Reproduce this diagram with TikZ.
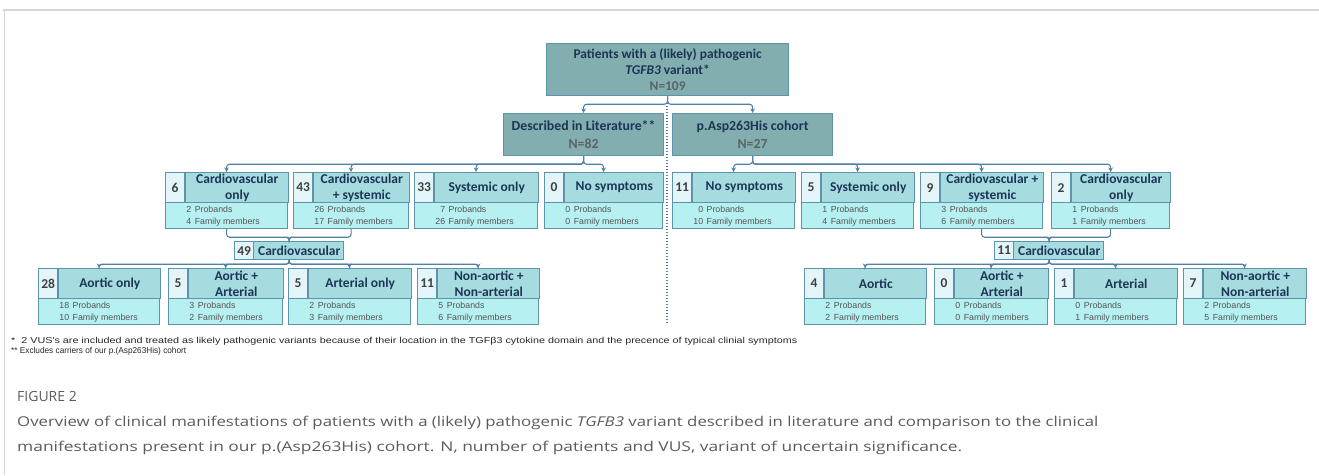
\documentclass[tikz,border=0pt]{standalone}
\usepackage{fontspec}
\setmainfont{Carlito}
\newfontfamily\arialfont{Liberation Sans}
\newfontfamily\capfont{Open Sans}
\usepackage{graphicx}
\usetikzlibrary{arrows.meta}
\usetikzlibrary{calc}
\definecolor{framegray}{HTML}{D6D6D6}
\definecolor{linkblue}{HTML}{4F81A8}
\definecolor{edgeblue}{HTML}{5E93AC}
\definecolor{topteal}{HTML}{82AEAF}
\definecolor{headteal}{HTML}{A6DCDF}
\definecolor{bodycyan}{HTML}{B7F0F1}
\definecolor{numwhite}{HTML}{E3F5F8}
\definecolor{navy}{HTML}{1D3557}
\definecolor{ngray}{HTML}{5A6466}
\definecolor{txtgray}{HTML}{555555}
\definecolor{capgray}{HTML}{5B5B5B}

% one category box: name, x, y, width, count, title, probands, family members
\newcommand{\catbox}[8]{%
  \node[catbody, minimum width=#4pt, anchor=north west] (#1) at (#2,#3) {};
  \node[catnum, anchor=north west] (#1-n) at (#1.north west) {#5};
  \node[cathead, minimum width=#4pt-19pt, anchor=north west] (#1-h) at (#1-n.north east) {#6};
  \node[cattxt, anchor=west] (#1-t) at ([xshift=1pt,yshift=-13pt]#1-n.south east)
    {\begin{tabular}{@{}r@{\hspace{3.5pt}}l@{}}#7 & Probands\\#8 & Family members\end{tabular}};
}
% small sum box: name, x, y, width, count
\newcommand{\sumbox}[5]{%
  \node[sumbody, minimum width=#4pt, anchor=north west] (#1) at (#2,#3) {};
  \node[sumnum, anchor=north west] (#1-n) at (#1.north west) {#5};
  \node[sumtxt] (#1-t) at ($(#1-n.east)!0.5!(#1.east)$) {Cardiovascular};
}

\begin{document}
\begin{tikzpicture}[x=1pt, y=-1pt,
    topbox/.style={draw=edgeblue, fill=topteal, line width=1.2pt, text=navy, align=center, inner sep=0pt},
    catbody/.style={draw=edgeblue, fill=bodycyan, line width=1.2pt, minimum height=56pt, inner sep=0pt},
    catnum/.style={draw=edgeblue, fill=numwhite, line width=1.2pt, minimum width=19pt, minimum height=30pt, inner sep=0pt,
      text=black!75, font=\bfseries\fontsize{13.5}{15}\selectfont},
    cathead/.style={draw=edgeblue, fill=headteal, line width=1.2pt, minimum height=30pt, inner sep=0pt, align=center,
      text=navy, font=\bfseries\fontsize{13.5}{15.5}\selectfont},
    cattxt/.style={inner sep=0pt, text=txtgray, font=\arialfont\fontsize{8.8}{11.6}\selectfont},
    sumbody/.style={draw=edgeblue, fill=headteal, line width=1.2pt, minimum height=18pt, inner sep=0pt},
    sumnum/.style={draw=edgeblue, fill=numwhite, line width=1.2pt, minimum width=19pt, minimum height=18pt, inner sep=0pt,
      text=black!75, font=\bfseries\fontsize{13.5}{15}\selectfont},
    sumtxt/.style={inner sep=0pt, text=navy, font=\bfseries\fontsize{13.5}{15}\selectfont},
    link/.style={draw=linkblue, line width=1.1pt, rounded corners=3pt, -{Stealth[length=4.5pt,width=4.5pt]}},
    divider/.style={draw=linkblue, line width=1.1pt, dash pattern=on 1.4pt off 1.6pt},
    foot/.style={inner sep=0pt, anchor=west, text=black!85, font=\arialfont\fontsize{8.6}{9}\selectfont},
    caption/.style={inner sep=0pt, anchor=west, text=capgray, font=\capfont\fontsize{13.5}{16}\selectfont}]
\useasboundingbox (0,0) rectangle (1319,475);
% frame
\draw[framegray, line width=2pt] (3,9.5) -- (1319,9.5);
\draw[framegray, line width=1pt] (4,10) -- (4,475);

% top and the two groups
\node[topbox, minimum width=242pt, minimum height=52pt, anchor=north west,
  font=\bfseries\fontsize{13.4}{16}\selectfont] (top) at (546,43)
  {Patients with a (likely) pathogenic\\\textit{TGFB3} variant*\\{\color{ngray}N=109}};
\node[topbox, minimum width=160pt, minimum height=42pt, anchor=north west,
  font=\bfseries\fontsize{13.8}{18.5}\selectfont] (lit) at (503,113)
  {Described in Literature**\\{\color{ngray}N=82}};
\node[topbox, minimum width=160pt, minimum height=42pt, anchor=north west,
  font=\bfseries\fontsize{13.8}{18.5}\selectfont] (coh) at (672,113)
  {p.Asp263His cohort\\{\color{ngray}N=27}};

\coordinate (dtop) at (667,103);
\coordinate (dbot) at (667,323);
\draw[divider] (dtop) -- (dbot);

% literature side
\catbox{A}{165}{172}{122}{6}{Cardiovascular\\only}{2}{4}
\catbox{B}{293}{172}{115}{43}{Cardiovascular\\+ systemic}{26}{17}
\catbox{C}{414}{172}{123}{33}{Systemic only}{7}{26}
\catbox{D}{544}{172}{118}{0}{No symptoms}{0}{0}
\sumbox{cvL}{234}{241}{109}{49}
\catbox{P1}{38}{268}{121}{28}{Aortic only}{18}{10}
\catbox{P2}{168}{268}{114}{5}{Aortic +\\Arterial}{3}{2}
\catbox{P3}{288}{268}{122}{5}{Arterial only}{2}{3}
\catbox{P4}{417}{268}{121}{11}{Non-aortic +\\Non-arterial}{5}{6}

% cohort side
\catbox{E}{672}{172}{122}{11}{No symptoms}{0}{10}
\catbox{F}{801}{172}{112}{5}{Systemic only}{1}{4}
\catbox{G}{920}{172}{122}{9}{Cardiovascular +\\systemic}{3}{6}
\catbox{H}{1051}{172}{118}{2}{Cardiovascular\\only}{1}{1}
\sumbox{cvR}{994}{241}{109}{11}
\catbox{Q1}{804}{268}{121}{4}{Aortic}{2}{2}
\catbox{Q2}{934}{268}{113}{0}{Aortic +\\Arterial}{0}{0}
\catbox{Q3}{1054}{268}{122}{1}{Arterial}{0}{1}
\catbox{Q4}{1183}{268}{122}{7}{Non-aortic +\\Non-arterial}{2}{5}

% connectors
\foreach \b in {lit,coh} \draw[link] (top.south) -- ++(0,8) -| (\b.north);
\foreach \b in {A,B,C,D} \draw[link] (lit.south) -- ++(0,8) -| (\b.north);
\foreach \b in {E,F,G,H} \draw[link] (coh.south) -- ++(0,8) -| (\b.north);
\foreach \b in {A,B} \draw[link] (\b.south) -- ++(0,8) -| (cvL.north);
\foreach \b in {G,H} \draw[link] (\b.south) -- ++(0,8) -| (cvR.north);
\foreach \b in {P1,P2,P3,P4} \draw[link] (cvL.south) -- ++(0,4) -| (\b.north);
\foreach \b in {Q1,Q2,Q3,Q4} \draw[link] (cvR.south) -- ++(0,4) -| (\b.north);

% footnotes
\node[foot] (fn1) at (11,341) {\resizebox{786pt}{\height}{*\ \ 2 VUS's are included and treated as likely pathogenic variants because of their location in the TGFβ3 cytokine domain and the precence of typical clinial symptoms}};
\node[foot] (fn2) at (11,351) {\resizebox{175pt}{\height}{** Excludes carriers of our p.(Asp263His) cohort}};

% caption
\node[caption, font=\capfont\fontsize{14}{16}\selectfont] (figlbl) at (17,396) {FIGURE 2};
\node[caption] (cap1) at (17,423) {\resizebox{1081pt}{\height}{Overview of clinical manifestations of patients with a (likely) pathogenic \textit{TGFB3} variant described in literature and comparison to the clinical}};
\node[caption] (cap2) at (17,448) {\resizebox{945pt}{\height}{manifestations present in our p.(Asp263His) cohort. N, number of patients and VUS, variant of uncertain significance.}};
\end{tikzpicture}
\end{document}
